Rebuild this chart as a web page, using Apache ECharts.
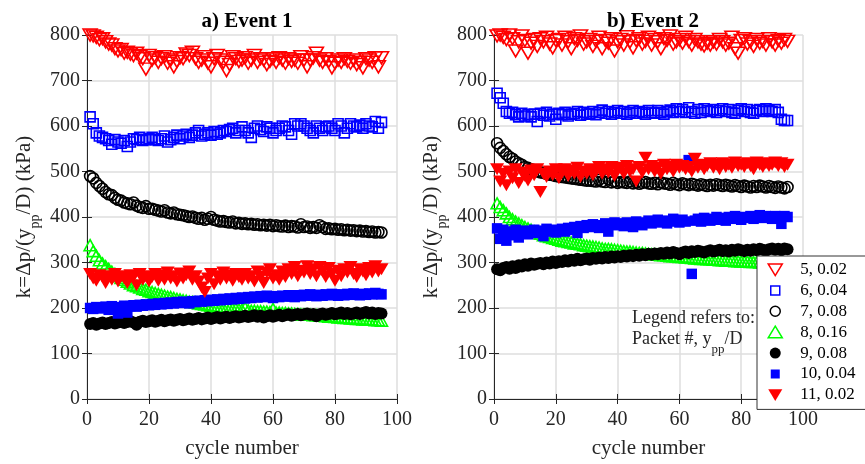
<!DOCTYPE html>
<html><head><meta charset="utf-8">
<script src="https://cdn.jsdelivr.net/npm/echarts@6/dist/echarts.min.js"></script>
<style>html,body{margin:0;padding:0;background:#fff}#c{width:865px;height:464px}</style>
</head><body><div id="c"></div>
<script>
var cycles = [1,2,3,4,5,6,7,8,9,10,11,12,13,14,15,16,17,18,19,20,21,22,23,24,25,26,27,28,29,30,31,32,33,34,35,36,37,38,39,40,41,42,43,44,45,46,47,48,49,50,51,52,53,54,55,56,57,58,59,60,61,62,63,64,65,66,67,68,69,70,71,72,73,74,75,76,77,78,79,80,81,82,83,84,85,86,87,88,89,90,91,92,93,94,95];
var xTicks = [0,20,40,60,80,100];
var yTicks = [0,100,200,300,400,500,600,700,800];
var legendNames = ['5, 0.02','6, 0.04','7, 0.08','8, 0.16','9, 0.08','10, 0.04','11, 0.02'];
var panelTitles = ['a) Event 1','b) Event 2'];

// Event 1
var e1_p5 = [800,798,795,790,792,785,780,778,770,765, 768,760,762,758,755,760,752,748,725,755, 745,750,740,748,752,738,745,730,742,750, 748,758,755,762,748,740,745,752,738,730, 748,755,745,740,722,735,752,748,742,745, 750,738,745,755,740,748,745,735,742,748, 740,750,745,738,748,742,745,738,752,745, 730,745,750,760,745,740,748,742,728,738, 745,740,748,742,738,745,735,740,728,748, 745,740,750,730,750];
var e1_p6 = [620,605,585,578,575,572,568,560,570,565, 562,568,555,565,572,570,575,568,570,572, 575,570,568,572,578,565,570,575,580,572, 578,582,575,580,585,590,578,582,585,580, 588,582,585,590,588,592,595,585,590,598, 590,585,575,595,600,592,588,598,595,585, 590,595,600,598,590,582,605,600,605,600, 595,590,585,600,595,590,598,600,595,590, 605,600,585,595,605,600,598,602,595,605, 600,598,610,595,608];
var e1_p7 = [490,485,475,468,462,455,450,448,442,438, 436,432,430,428,432,425,422,420,424,418, 418,416,414,412,415,410,408,410,406,405, 404,402,400,401,398,396,398,394,396,400, 394,392,390,391,389,388,390,386,387,385, 386,384,385,383,384,382,383,381,383,380, 382,380,379,381,378,380,379,377,384,378, 379,376,378,376,382,378,374,375,373,374, 372,373,371,372,370,371,369,370,368,369, 367,368,366,367,366];
var e1_p8 = [338,325,315,305,298,292,286,280,275,270, 266,262,258,254,250,248,245,242,240,237, 235,233,231,229,227,225,224,222,220,219, 217,216,214,213,212,210,209,208,206,205, 204,203,202,201,200,199,198,198,197,196, 200,195,194,194,193,193,192,192,191,198, 190,190,189,189,188,188,187,187,186,186, 185,185,184,184,183,183,182,181,181,180, 179,179,178,178,177,177,176,176,175,175, 174,174,173,173,172];
var e1_p9 = [165,167,163,166,168,165,167,169,166,168, 170,167,169,171,168,163,170,172,169,171, 173,170,172,174,171,173,175,172,174,176, 173,175,177,174,176,178,175,177,179,176, 178,180,177,179,181,178,180,182,179,181, 183,180,182,184,181,183,179,182,184,181, 183,185,182,184,186,183,185,187,184,186, 188,185,187,182,186,188,185,187,189,186, 188,190,187,189,186,188,190,187,189,191, 188,190,187,189,188];
var e1_p10 = [200,198,202,199,201,203,196,204,200,188, 202,205,190,204,206,203,207,205,208,206, 209,207,210,208,211,209,212,210,213,211, 214,212,210,215,213,216,214,217,215,218, 216,219,217,220,218,221,219,222,220,223, 221,224,222,225,223,226,224,227,225,222, 226,224,227,225,228,226,224,228,226,229, 227,230,228,226,229,227,230,228,231,229, 227,230,228,231,229,232,230,228,231,229, 232,230,233,231,230];
var e1_p11 = [275,265,260,272,268,255,270,262,275,258, 270,265,255,272,268,250,275,262,270,258, 268,275,260,272,262,278,265,270,258,276, 265,272,280,262,270,258,245,235,265,275, 252,270,262,278,265,272,260,275,268,262, 275,265,270,258,280,268,255,278,285,265, 272,262,280,268,285,275,290,270,282,278, 292,275,285,270,290,280,268,288,275,260, 282,270,285,278,290,275,268,285,280,272, 288,278,292,280,285];

// Event 2
var e2_p5 = [798,800,795,790,800,792,765,785,798,788, 760,782,790,775,792,785,795,780,772,788, 790,778,795,785,770,792,788,798,780,785, 790,775,786,795,770,788,782,792,765,785, 790,778,796,785,772,788,792,780,786,795, 778,790,785,770,792,788,798,780,785,790, 782,795,786,778,790,785,780,776,782,778, 785,780,790,785,778,782,795,770,760,788, 792,780,785,775,790,782,786,778,792,785, 778,788,782,790,786];
var e2_p6 = [672,662,650,632,628,630,625,620,628,622, 625,620,626,610,628,624,630,622,626,615, 628,625,630,622,626,628,632,624,630,626, 628,632,625,630,635,628,632,626,630,634, 628,632,626,630,634,628,632,630,626,634, 630,628,634,630,626,632,635,630,638,632, 636,630,640,632,628,636,630,638,634,632, 636,630,634,638,632,636,630,628,635,638, 632,636,630,628,634,636,632,638,635,632, 636,630,615,612,612];
var e2_p7 = [562,552,545,538,532,528,522,518,515,510, 508,505,503,500,498,497,495,493,492,490, 489,488,487,486,485,484,483,482,481,480, 480,479,478,482,478,477,483,476,478,475, 477,476,475,478,474,476,473,475,477,474, 473,475,472,476,474,473,471,475,472,470, 474,472,470,473,471,469,472,470,468,471, 469,472,470,468,471,469,467,470,468,466, 469,467,465,468,466,469,467,465,468,466, 464,467,465,463,466];
var e2_p8 = [430,422,415,408,400,395,390,386,382,378, 375,372,368,366,363,360,358,356,354,352, 350,348,347,345,344,342,341,340,338,337, 336,335,334,333,331,330,330,329,328,327, 326,325,324,324,323,322,321,321,320,319, 318,318,317,316,316,315,314,314,313,312, 312,311,311,310,309,309,308,308,307,307, 306,306,305,305,304,304,304,303,303,302, 302,302,301,301,301,300,300,300,299,299, 299,298,298,298,297];
var e2_p9 = [285,283,288,290,286,292,288,294,291,296, 293,298,295,297,299,296,300,298,302,299, 303,301,305,302,306,304,308,305,307,309, 306,310,308,311,309,312,310,313,311,314, 312,315,313,316,314,317,315,318,316,319, 317,320,318,321,319,322,320,323,321,318, 322,324,321,325,323,326,324,322,325,327, 324,326,328,325,327,324,328,326,329,327, 325,328,326,329,327,330,328,326,329,331, 328,330,327,331,329];
var e2_p10 = [375,352,372,348,368,360,372,355,365,370, 362,368,372,365,370,358,374,368,372,366, 370,374,368,376,372,378,365,380,376,382, 378,384,380,376,382,386,368,384,388,382, 386,380,388,384,378,390,386,382,388,392, 386,390,394,388,392,386,390,396,392,388, 394,390,525,275,392,396,390,398,394,392, 396,400,394,398,392,400,396,402,398,394, 400,398,402,396,400,404,398,402,400,396, 402,398,385,402,400];
var e2_p11 = [505,478,495,470,500,485,505,475,498,490, 480,502,492,505,455,495,488,500,492,505, 485,498,505,490,502,495,508,488,500,495, 505,492,500,510,495,505,498,510,490,502, 508,495,512,500,505,478,510,498,530,505, 512,500,508,495,515,505,510,500,515,508, 512,505,510,500,528,508,515,505,512,518, 508,515,505,518,510,515,508,520,512,515, 510,518,512,505,520,515,510,518,512,515, 520,512,518,510,515];

var FONT = 'Liberation Serif';
var AX = '#262626';
var DOWN = 'path://M0,0L12,0L6,10Z';
var styles = [
  {symbol: DOWN, size: [14,12], fill: 'rgba(0,0,0,0)', stroke: '#ff0000', bw: 1.6, icon: 'path://M0,0M16,16M0.5,2L15.5,2L8,14.5Z'},
  {symbol: 'rect', size: 10, fill: 'rgba(0,0,0,0)', stroke: '#0000ff', bw: 1.6, icon: 'path://M0,0M15,15M3,3L12,3L12,12L3,12Z'},
  {symbol: 'circle', size: 11, fill: 'rgba(0,0,0,0)', stroke: '#000000', bw: 1.6, icon: 'path://M0,0M15,15M2.5,7.5A5,5,0,1,1,12.5,7.5A5,5,0,1,1,2.5,7.5Z'},
  {symbol: 'triangle', size: [12,11], fill: 'rgba(0,0,0,0)', stroke: '#00ff00', bw: 1.6, icon: 'path://M0,0M16,16M8,1.5L15.5,14L0.5,14Z'},
  {symbol: 'circle', size: 12, fill: '#000000', stroke: null, bw: 0, icon: 'path://M0,0M15,15M2,7.5A5.5,5.5,0,1,1,13,7.5A5.5,5.5,0,1,1,2,7.5Z'},
  {symbol: 'rect', size: 10.5, fill: '#0000ff', stroke: null, bw: 0, icon: 'path://M0,0M15,15M3,3L12,3L12,12L3,12Z'},
  {symbol: DOWN, size: [14,12], fill: '#ff0000', stroke: null, bw: 0, icon: 'path://M0,0M16,16M0.5,2L15.5,2L8,14.5Z'}
];
var event1 = [e1_p5, e1_p6, e1_p7, e1_p8, e1_p9, e1_p10, e1_p11];
var event2 = [e2_p5, e2_p6, e2_p7, e2_p8, e2_p9, e2_p10, e2_p11];

function pairs(vals) { return vals.map(function (v, i) { return [cycles[i], v]; }); }

var grids = [
  {left: 87, top: 35, width: 310, height: 368},
  {left: 494, top: 35, width: 309, height: 368}
];
var xAxes = [], yAxes = [], series = [];
grids.forEach(function (g, gi) {
  xAxes.push({gridIndex: gi, type: 'value', min: 0, max: 100, interval: 20,
    name: 'cycle number', nameLocation: 'middle', nameGap: 39,
    nameTextStyle: {fontFamily: FONT, fontSize: 21, color: AX},
    axisLine: {show: true, lineStyle: {color: AX, width: 1}},
    axisTick: {show: true, inside: true, length: 5, lineStyle: {color: AX}},
    axisLabel: {fontFamily: FONT, fontSize: 20, color: AX, margin: 11,
      formatter: function (v) { return xTicks.indexOf(v) >= 0 ? String(v) : ''; }},
    splitLine: {show: true, lineStyle: {color: '#dedede', width: 1.5}}});
  xAxes.push({gridIndex: gi, type: 'value', min: 0, max: 100, interval: 20, position: 'top',
    axisLine: {show: true, lineStyle: {color: AX, width: 1}},
    axisTick: {show: true, inside: true, length: 5, lineStyle: {color: AX}},
    axisLabel: {show: false}, splitLine: {show: false}});
  yAxes.push({gridIndex: gi, type: 'value', min: 0, max: 800, interval: 100,
    name: 'k=Δp/(y{sub|pp}/D) (kPa)', nameLocation: 'middle', nameGap: 50, nameRotate: 90,
    nameTextStyle: {fontFamily: FONT, fontSize: 21, color: AX, lineHeight: 26,
      rich: {sub: {fontFamily: FONT, fontSize: 14, color: AX, lineHeight: 26, padding: [22, 0, 0, 0]}}},
    axisLine: {show: true, lineStyle: {color: AX, width: 1}},
    axisTick: {show: true, inside: true, length: 5, lineStyle: {color: AX}},
    axisLabel: {fontFamily: FONT, fontSize: 20, color: AX, margin: 7,
      formatter: function (v) { return yTicks.indexOf(v) >= 0 ? String(v) : ''; }},
    splitLine: {show: true, lineStyle: {color: '#dedede', width: 1.5}}});
  yAxes.push({gridIndex: gi, type: 'value', min: 0, max: 800, interval: 100, position: 'right',
    axisLine: {show: true, lineStyle: {color: AX, width: 1}},
    axisTick: {show: true, inside: true, length: 5, lineStyle: {color: AX}},
    axisLabel: {show: false}, splitLine: {show: false}});
  var data = gi === 0 ? event1 : event2;
  data.forEach(function (vals, si) {
    var s = styles[si];
    var it = {color: s.fill, borderWidth: s.bw, opacity: 1};
    if (s.stroke) it.borderColor = s.stroke;
    series.push({type: 'scatter', name: legendNames[si], xAxisIndex: gi * 2, yAxisIndex: gi * 2,
      symbol: s.symbol, symbolSize: s.size, itemStyle: it, silent: true, animation: false,
      data: pairs(vals)});
  });
});

var option = {
  animation: false,
  backgroundColor: '#ffffff',
  grid: grids,
  xAxis: xAxes,
  yAxis: yAxes,
  title: [
    {text: panelTitles[0], left: 242, top: 6, textAlign: 'center',
      textStyle: {fontFamily: FONT, fontSize: 21, fontWeight: 'bold', color: '#000'}},
    {text: panelTitles[1], left: 648, top: 6, textAlign: 'center',
      textStyle: {fontFamily: FONT, fontSize: 21, fontWeight: 'bold', color: '#000'}},
    {text: 'Legend refers to:\nPacket #, y{sub|pp}/D', left: 632, top: 308, textAlign: 'left', padding: 0,
      textStyle: {fontFamily: FONT, fontSize: 18, fontWeight: 'normal', color: AX, lineHeight: 21,
        rich: {sub: {fontFamily: FONT, fontSize: 13, color: AX, lineHeight: 21, padding: [20, 0, 0, 0]}}}}
  ],
  legend: {
    orient: 'vertical', left: 757, top: 256,
    padding: [5, 30, 6, 10], itemWidth: 32, itemHeight: 15, itemGap: 3.9,
    backgroundColor: '#ffffff', borderColor: '#333333', borderWidth: 1,
    textStyle: {fontFamily: FONT, fontSize: 17, color: '#000', lineHeight: 15, padding: [0, 0, 0, 4]},
    itemStyle: {borderWidth: 1.5, opacity: 1},
    data: legendNames.map(function (n, i) { return {name: n, icon: styles[i].icon}; })
  },
  series: series
};
var chart = echarts.init(document.getElementById('c'), null, {renderer: 'canvas'});
chart.setOption(option);
</script>
</body></html>
